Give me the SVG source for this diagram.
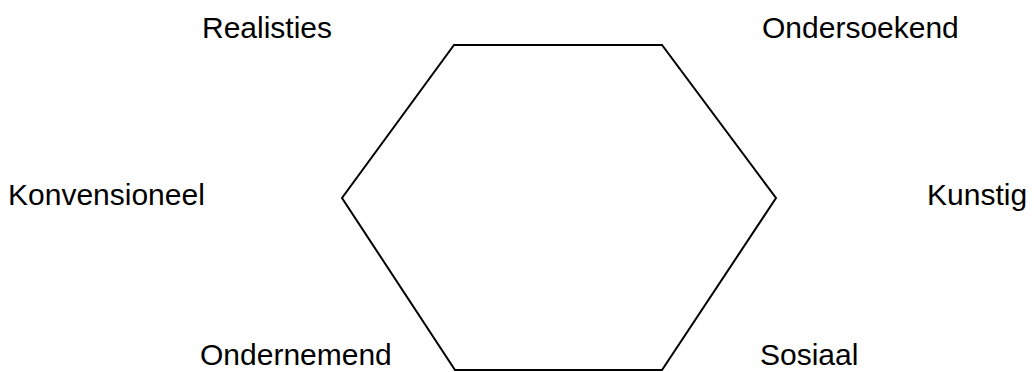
<svg xmlns="http://www.w3.org/2000/svg" width="1034" height="372" viewBox="0 0 1034 372">
<style>
.lbl{font-family:"Liberation Sans",Arial,sans-serif;font-size:30px;fill:#000}
.hex{fill:none;stroke:#000;stroke-width:2;stroke-linejoin:miter}
</style>
<rect width="1034" height="372" fill="#fff"/>
<g id="hexagon">
<polygon class="hex" points="454,45 662,45 776,198 662,370 455,370 342,198"/>
</g>
<g id="realisties"><text class="lbl" x="202" y="38">Realisties</text></g>
<g id="ondersoekend"><text class="lbl" x="762" y="38">Ondersoekend</text></g>
<g id="konvensioneel"><text class="lbl" x="8" y="205">Konvensioneel</text></g>
<g id="kunstig"><text class="lbl" x="927" y="205">Kunstig</text></g>
<g id="ondernemend"><text class="lbl" x="200" y="365">Ondernemend</text></g>
<g id="sosiaal"><text class="lbl" x="760" y="365">Sosiaal</text></g>
<g id="connectors"></g>
</svg>
